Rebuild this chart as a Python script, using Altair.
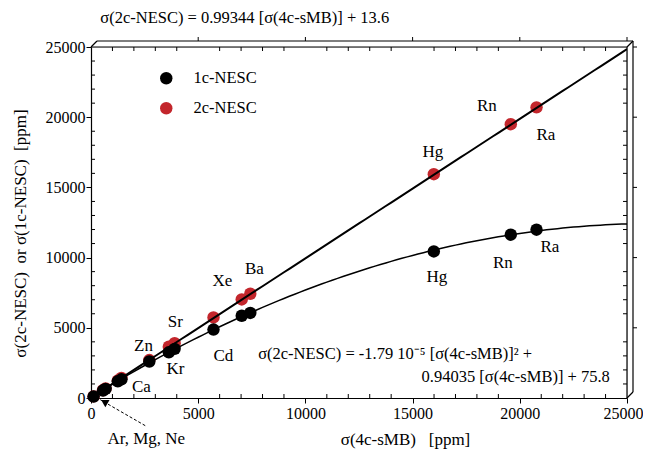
import altair as alt
import pandas as pd

W, H = 536, 351
FONT = "Liberation Serif"
RED = "#c3262c"
NB = "\u00a0"

# data
x_4c = [120, 560, 680, 1250, 1420, 2720, 3630, 3900, 5713, 7030, 7430, 15990, 19580, 20780]
y_1c = [100, 530, 650, 1190, 1330, 2600, 3256, 3499, 4877, 5860, 6060, 10440, 11630, 11990]
y_2c = [115, 555, 680, 1240, 1430, 2700, 3650, 3900, 5740, 7019, 7426, 15940, 19500, 20700]

series_names = ["1c-NESC", "2c-NESC"]

# fit equations printed on the chart
lin_coef = [0.99344, 13.6]
quad_coef = [-1.79e-5, 0.94035, 75.8]

label_text = ["Ra", "Rn", "Hg", "Ra", "Rn", "Hg", "Ba", "Xe", "Sr", "Zn", "Kr", "Cd", "Ca", "Ar, Mg, Ne"]
label_x = [21217, 18467, 15950, 21403, 19212, 16136, 7619, 6128, 3938, 2447, 3938, 6175, 2354, 2577]
label_y = [18728, 20797, 17510, 10731, 9589, 8590, 9160, 8303, 5447, 3734, 2092, 3020, 800, -2906]

ticks_major = [0, 5000, 10000, 15000, 20000, 25000]
ticks_minor = [v for v in range(1000, 25000, 1000) if v % 5000]

arrow_x = [2530, 433]
arrow_y = [-1970, -121]

title_text = "σ(2c-NESC) = 0.99344 [σ(4c-sMB)] + 13.6"
eq1 = "σ(2c-NESC) = -1.79 10⁻⁵ [σ(4c-sMB)]² +"
eq2 = "0.94035 [σ(4c-sMB)] + 75.8"
x_title = "σ(4c-sMB)" + NB * 3 + "[ppm]"
y_title = "σ(2c-NESC)" + NB * 2 + "or σ(1c-NESC)" + NB * 2 + "[ppm]"

pts = pd.DataFrame({
    "x": x_4c + x_4c,
    "y": y_2c + y_1c,
    "series": ["2c-NESC"] * len(x_4c) + ["1c-NESC"] * len(x_4c),
    "ord": [0] * len(x_4c) + [1] * len(x_4c),
})
labels = pd.DataFrame({"x": label_x, "y": label_y, "t": label_text})
one = pd.DataFrame({"a": [0]})
minor_df = pd.DataFrame({"v": ticks_minor})
major_df = pd.DataFrame({"v": ticks_major[1:]})

xs = alt.Scale(domain=[0, 25000], nice=False)
ys = alt.Scale(domain=[0, 25000], nice=False)

axis_common = dict(
    values=ticks_major, grid=False, labelFont=FONT, labelFontSize=16, labelColor="black",
    tickColor="black", domainColor="black", tickSize=5, labelFlush=False, labelOverlap=False,
    titleFont=FONT, titleFontSize=17, titleFontWeight="normal", titleColor="black",
    domainWidth=1.2, tickWidth=1,
)

xaxis = alt.Axis(title=x_title, titleX=314, titleY=41, titleBaseline="middle",
                 titleAlign="center", format="d", labelPadding=2,
                 labelOffset={"condition": {"test": "datum.value === 25000", "value": -4}, "value": 0},
                 **axis_common)
yaxis = alt.Axis(title=y_title, titleX=-71, titleY=186,
                 titleAngle=270, titleAlign="center", titleBaseline="middle", format="d",
                 labelAlign="right", labelPadding=1, **axis_common)

points = alt.Chart(pts).mark_circle(size=155, opacity=1).encode(
    x=alt.X("x:Q", scale=xs, axis=xaxis),
    y=alt.Y("y:Q", scale=ys, axis=yaxis),
    color=alt.Color("series:N", scale=alt.Scale(domain=series_names, range=["black", RED]),
                    legend=alt.Legend(title=None, orient="none", legendX=67, legendY=23,
                                      labelFont=FONT, labelFontSize=16.5, labelColor="black",
                                      symbolType="circle", symbolSize=155, symbolStrokeWidth=0,
                                      labelOffset=19, rowPadding=13, padding=0)),
    order=alt.Order("ord:Q"),
)

lin = alt.Chart(alt.sequence(0, 25001, 250, as_="x")).transform_calculate(
    y=f"{lin_coef[0]} * datum.x + {lin_coef[1]}"
).mark_line(color="black", strokeWidth=2, clip=True).encode(
    x=alt.X("x:Q", scale=xs), y=alt.Y("y:Q", scale=ys))

quad = alt.Chart(alt.sequence(0, 25001, 250, as_="x")).transform_calculate(
    y=f"{quad_coef[0]} * datum.x * datum.x + {quad_coef[1]} * datum.x + {quad_coef[2]}"
).mark_line(color="black", strokeWidth=1.5, clip=True).encode(
    x=alt.X("x:Q", scale=xs), y=alt.Y("y:Q", scale=ys))

text = alt.Chart(labels).mark_text(font=FONT, fontSize=17, color="black").encode(
    x=alt.X("x:Q", scale=xs), y=alt.Y("y:Q", scale=ys), text="t:N")

title = alt.Chart(pd.DataFrame({"x": [433], "y": [27082], "t": [title_text]})).mark_text(
    font=FONT, fontSize=16.5, color="black", align="left").encode(
    x=alt.X("x:Q", scale=xs), y=alt.Y("y:Q", scale=ys), text="t:N")

eq = alt.Chart(pd.DataFrame({"x": [7796, 24199], "y": [3163, 1521], "t": [eq1, eq2],
                             "al": ["left", "right"]}))
eq_l = eq.transform_filter("datum.al == 'left'").mark_text(font=FONT, fontSize=16.5, color="black", align="left").encode(
    x=alt.X("x:Q", scale=xs), y=alt.Y("y:Q", scale=ys), text="t:N")
eq_r = eq.transform_filter("datum.al == 'right'").mark_text(font=FONT, fontSize=16.5, color="black", align="right").encode(
    x=alt.X("x:Q", scale=xs), y=alt.Y("y:Q", scale=ys), text="t:N")

arrow_df = pd.DataFrame({"x": arrow_x, "y": arrow_y, "i": [0, 1]})
arrow_line = alt.Chart(arrow_df).mark_line(color="black", strokeWidth=1, strokeDash=[3, 2]).encode(
    x=alt.X("x:Q", scale=xs), y=alt.Y("y:Q", scale=ys), order="i:Q")
arrow_head = alt.Chart(arrow_df.iloc[[1]]).mark_point(
    shape="triangle-up", filled=True, color="black", size=70, angle=300, opacity=1, xOffset=4, yOffset=2).encode(
    x=alt.X("x:Q", scale=xs), y=alt.Y("y:Q", scale=ys))

# frame decoration
def rule(x, x2, y, y2, w=1.2):
    return alt.Chart(one).mark_rule(color="black", strokeWidth=w).encode(
        x=alt.value(x), x2=alt.value(x2), y=alt.value(y), y2=alt.value(y2))

frame = [
    rule(0, W, 0, 0), rule(W, W, 0, H),
    rule(6, W + 6, -6, -6), rule(W + 6, W + 6, -6, H - 6),
    rule(0, 6, 0, -6), rule(W, W + 6, 0, -6), rule(W, W + 6, H, H - 6),
]

minor_bottom = alt.Chart(minor_df).mark_rule(color="black", strokeWidth=1).encode(
    x=alt.X("v:Q", scale=xs), y=alt.value(H), y2=alt.value(H - 4))
minor_top = alt.Chart(minor_df).mark_rule(color="black", strokeWidth=1).encode(
    x=alt.X("v:Q", scale=xs), y=alt.value(0), y2=alt.value(4))
minor_left = alt.Chart(minor_df).mark_rule(color="black", strokeWidth=1).encode(
    y=alt.Y("v:Q", scale=ys), x=alt.value(0), x2=alt.value(4))
minor_right = alt.Chart(minor_df).mark_rule(color="black", strokeWidth=1).encode(
    y=alt.Y("v:Q", scale=ys), x=alt.value(W), x2=alt.value(W - 4))
major_top = alt.Chart(major_df).mark_rule(color="black", strokeWidth=1).encode(
    x=alt.X("v:Q", scale=xs), y=alt.value(-6), y2=alt.value(-10))
major_right = alt.Chart(major_df).mark_rule(color="black", strokeWidth=1).encode(
    y=alt.Y("v:Q", scale=ys), x=alt.value(W + 6), x2=alt.value(W + 10))

chart = alt.layer(
    points, lin, quad, text, title, eq_l, eq_r, arrow_line, arrow_head,
    minor_bottom, minor_top, minor_left, minor_right, major_top, major_right, *frame,
).properties(
    width=W, height=H,
    autosize=alt.AutoSizeParams(type="none"),
    padding={"left": 83, "top": 39, "right": 16, "bottom": 52},
).configure_view(stroke=None).configure(background="white")

chart.save("out.html", embed_options={"renderer": "svg", "actions": False})
